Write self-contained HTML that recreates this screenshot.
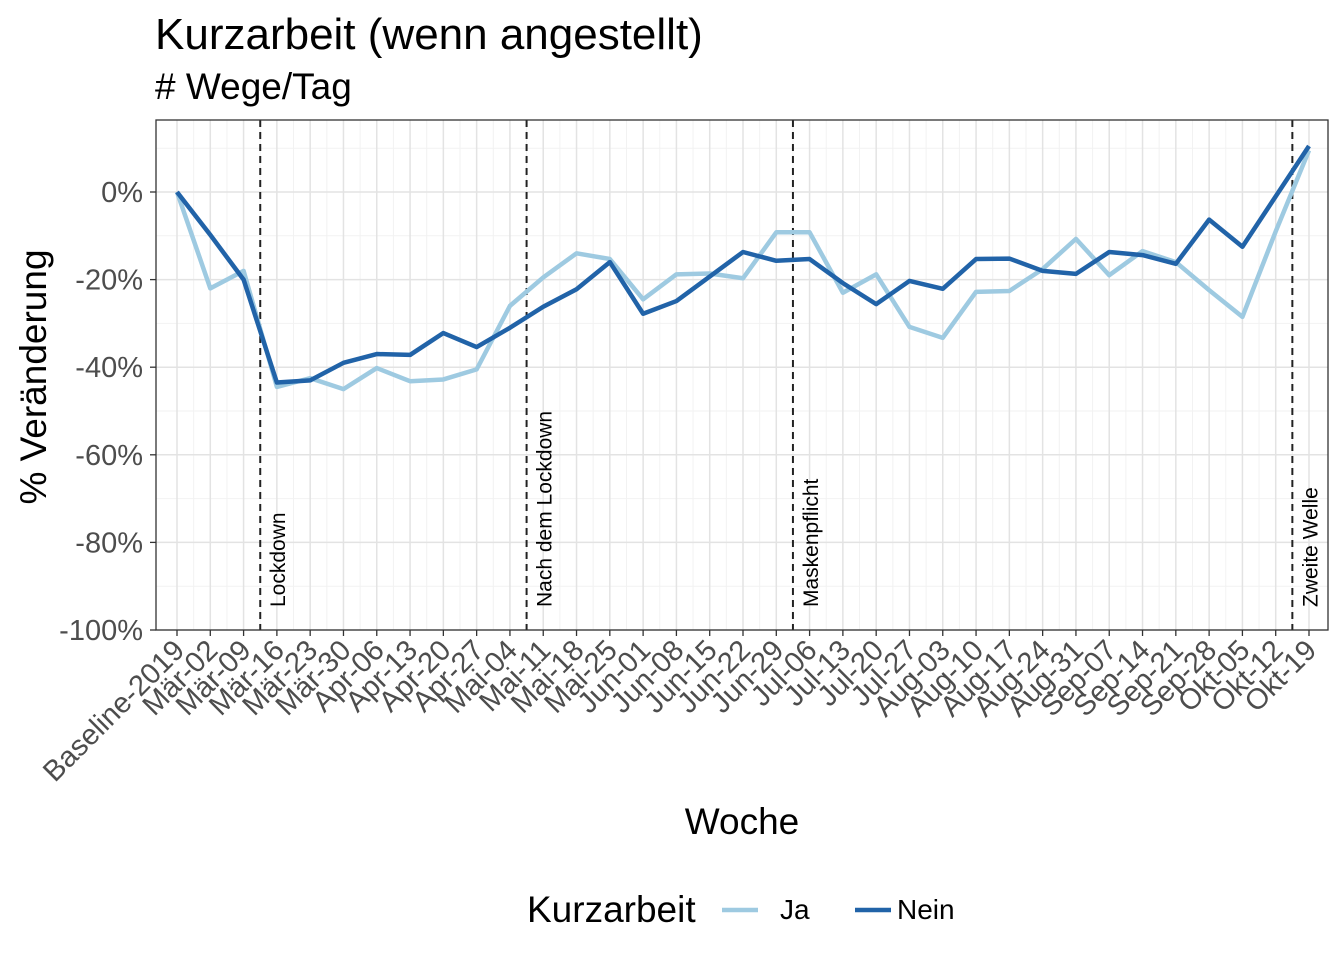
<!DOCTYPE html>
<html><head><meta charset="utf-8"><style>
body{margin:0;background:#fff;font-family:"Liberation Sans",Arial,sans-serif}
</style></head><body>
<svg id="chart" width="1344" height="960" xmlns="http://www.w3.org/2000/svg" font-family="Liberation Sans, Arial, sans-serif">
<text x="155" y="49" font-size="44" fill="#000">Kurzarbeit (wenn angestellt)</text>
<text x="155" y="99" font-size="37" fill="#000"># Wege/Tag</text>
<g id="grid"></g><g id="vlines"></g><g id="series"></g><g id="axes"></g>
<rect x="156" y="120" width="1172" height="510" fill="none" stroke="#333" stroke-width="1.3"/>
<text transform="translate(46,377) rotate(-90)" text-anchor="middle" font-size="37">% Veränderung</text>
<text x="742" y="834" text-anchor="middle" font-size="37">Woche</text>
<g>
<text x="527" y="922" font-size="37">Kurzarbeit</text>
<line x1="722" y1="910" x2="758" y2="910" stroke="#9ecae1" stroke-width="4.5"/>
<text x="780" y="919" font-size="28">Ja</text>
<line x1="855" y1="910" x2="891" y2="910" stroke="#2163a8" stroke-width="4.5"/>
<text x="897" y="919" font-size="28">Nein</text>
</g>
</svg>
<script>
const categories=["Baseline-2019","Mär-02","Mär-09","Mär-16","Mär-23","Mär-30","Apr-06","Apr-13","Apr-20","Apr-27","Mai-04","Mai-11","Mai-18","Mai-25","Jun-01","Jun-08","Jun-15","Jun-22","Jun-29","Jul-06","Jul-13","Jul-20","Jul-27","Aug-03","Aug-10","Aug-17","Aug-24","Aug-31","Sep-07","Sep-14","Sep-21","Sep-28","Okt-05","Okt-12","Okt-19"];
const jaValues=[0,-22,-18,-44.5,-42.5,-45,-40.2,-43.2,-42.8,-40.5,-26,-19.5,-14,-15.3,-24.5,-18.8,-18.6,-19.7,-9.2,-9.2,-23,-18.8,-30.8,-33.3,-22.8,-22.6,-17.6,-10.7,-19,-13.5,-16,-22.4,-28.5,-9,9.5];
const neinValues=[0,-9.8,-20,-43.5,-43,-39,-37,-37.2,-32.2,-35.4,-31,-26.2,-22.2,-16,-27.8,-24.9,-19.3,-13.7,-15.7,-15.3,-20.8,-25.6,-20.3,-22.1,-15.3,-15.2,-18,-18.7,-13.7,-14.4,-16.4,-6.3,-12.5,-1,10.5];
const yTicks=[0,-20,-40,-60,-80,-100];
const yTickLabels=["0%","-20%","-40%","-60%","-80%","-100%"];
const eventPos=[2.5,10.5,18.5,33.5];
const eventLabels=["Lockdown","Nach dem Lockdown","Maskenpflicht","Zweite Welle"];
const NS="http://www.w3.org/2000/svg";
const x=i=>177+i*(1132/34);
const y=v=>192-v*4.38;
function mk(tag,attrs,parent,txt){const e=document.createElementNS(NS,tag);for(const k in attrs)e.setAttribute(k,attrs[k]);if(txt!==undefined)e.textContent=txt;parent.appendChild(e);return e;}
const grid=document.getElementById('grid'),axes=document.getElementById('axes'),vl=document.getElementById('vlines'),ser=document.getElementById('series');
for(let v=10;v>=-100;v-=10){if(v%20!==0){const l=mk('line',{x1:156,x2:1328,y1:y(v),y2:y(v),stroke:'#f2f2f2','stroke-width':1},grid);}}
for(let i=0;i<categories.length-1;i++){const l=mk('line',{x1:(x(i)+x(i+1))/2,x2:(x(i)+x(i+1))/2,y1:120,y2:630,stroke:'#f2f2f2','stroke-width':1},grid);}
yTicks.forEach((v,k)=>{const l=mk('line',{x1:156,x2:1328,y1:y(v),y2:y(v),stroke:'#e3e3e3','stroke-width':1.5},grid);
const t=mk('line',{x1:150,x2:156,y1:y(v),y2:y(v),stroke:'#333','stroke-width':1.3},axes);
const tx=mk('text',{x:143,y:y(v)+10,'text-anchor':'end','font-size':29,fill:'#4d4d4d'},axes,yTickLabels[k]);});
categories.forEach((c,i)=>{const l=mk('line',{x1:x(i),x2:x(i),y1:120,y2:630,stroke:'#e3e3e3','stroke-width':1.5},grid);
const t=mk('line',{x1:x(i),x2:x(i),y1:630,y2:636,stroke:'#333','stroke-width':1.3},axes);
const tx=mk('text',{transform:`translate(${x(i)+9},${652}) rotate(-45)`,'text-anchor':'end','font-size':29,fill:'#4d4d4d'},axes,c);});
eventPos.forEach((p,k)=>{const l=mk('line',{x1:x(p),x2:x(p),y1:120,y2:630,stroke:'#222','stroke-width':2,'stroke-dasharray':'7,5'},vl);
const t=mk('text',{transform:`translate(${x(p)+25},607) rotate(-90)`,'font-size':21,fill:'#000'},vl,eventLabels[k]);});
function line(vals,col,name){const p=mk('polyline',{points:vals.map((v,i)=>x(i)+','+y(v)).join(' '),fill:'none',stroke:col,'stroke-width':4.5,'stroke-linejoin':'round'},ser);}
line(jaValues,'#9ecae1','series-ja');
line(neinValues,'#2163a8','series-nein');
</script>
</body></html>
